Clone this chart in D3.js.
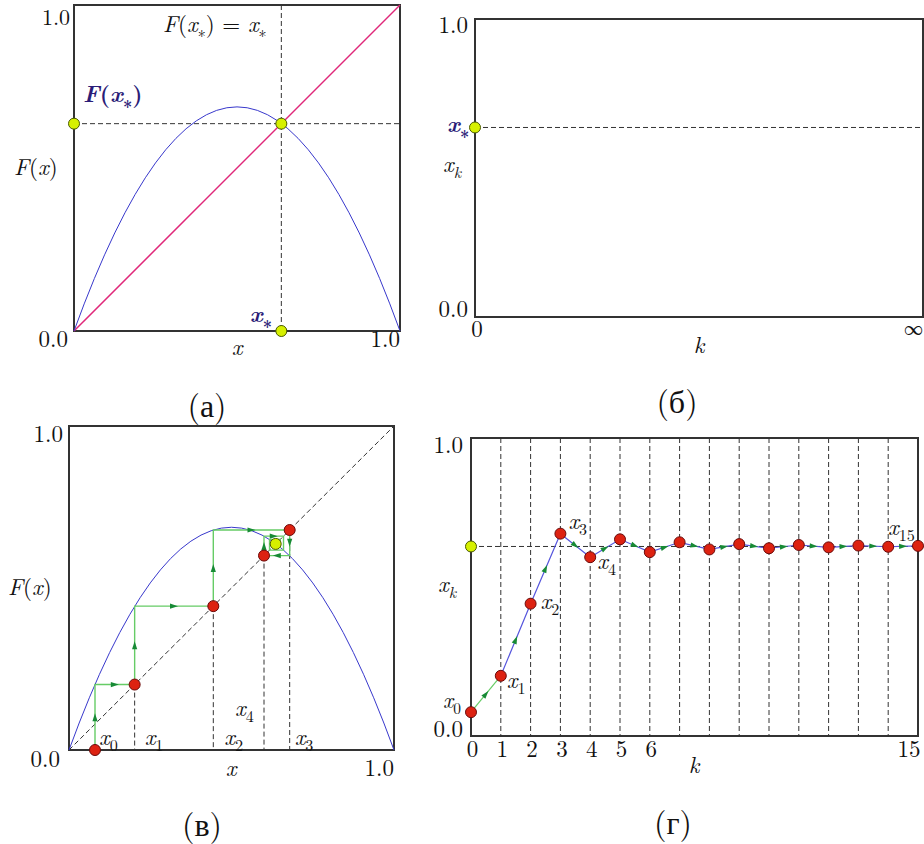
<!DOCTYPE html>
<html>
<head>
<meta charset="utf-8">
<script src="https://cdn.jsdelivr.net/npm/d3@7"></script>
<style>
  body { margin: 0; background: #fff; }
</style>
</head>
<body>
<svg width="924" height="844"></svg>
<script>
// logistic map F(x) = r x (1 - x), r ~ 2.75
var peakF = 0.6875;          // F(0.5), top of the parabola
var fixedPoint = 0.636;      // x* where F(x*) = x*
// iterates x_k
var xs = [0.080, 0.202, 0.444, 0.679, 0.600, 0.660, 0.617, 0.650,
          0.626, 0.644, 0.630, 0.641, 0.633, 0.639, 0.635, 0.638];
var kTicks = [0, 1, 2, 3, 4, 5, 6, 15];
var captions = ["(а)", "(б)", "(в)", "(г)"];

var FONT = "'Latin Modern Roman', 'Liberation Serif', serif";
var svg = d3.select("svg");
var navy = "#2b1d78", blue = "#3838cc", pink = "#e0287a",
    green = "#66cc66", arrowGreen = "#178a35";

function math(g, x, y, parts, opts) {
  opts = opts || {};
  var size = opts.size || 23, shift = 0;
  var t = g.append("text").attr("x", x).attr("y", y)
    .style("font-family", FONT)
    .attr("font-size", size)
    .attr("text-anchor", opts.anchor || "start")
    .attr("fill", opts.fill || "#111")
    .attr("font-weight", opts.bold ? "bold" : null);
  parts.forEach(function(p) {
    var s = t.append("tspan").text(p[0]);
    var sub = p[1].charAt(0) === "s";
    var want = sub ? size * 0.26 : 0;
    if (want !== shift) { s.attr("dy", want - shift); shift = want; }
    if (sub) s.attr("font-size", size * 0.7);
    if (p[1].indexOf("i") >= 0) s.style("font-style", "italic");
  });
  return t;
}

function frame(x, y) {
  svg.append("rect")
    .attr("x", x.range()[0]).attr("y", y.range()[1])
    .attr("width", x.range()[1] - x.range()[0])
    .attr("height", y.range()[0] - y.range()[1])
    .attr("fill", "none").attr("stroke", "#333").attr("stroke-width", 2);
}

function dashed(x1, y1, x2, y2) {
  svg.append("line").attr("x1", x1).attr("y1", y1).attr("x2", x2).attr("y2", y2)
    .attr("stroke", "#333").attr("stroke-width", 1).attr("stroke-dasharray", "5,3");
}

function dot(cx, cy, fill, stroke) {
  svg.append("circle").attr("cx", cx).attr("cy", cy).attr("r", 5.5)
    .attr("fill", fill).attr("stroke", stroke).attr("stroke-width", 1);
}
function yellow(cx, cy) { dot(cx, cy, "#d6f000", "#4a5a00"); }
function red(cx, cy) { dot(cx, cy, "#dd2211", "#6a0a0a"); }

function arrow(p, q) {
  var dx = q[0] - p[0], dy = q[1] - p[1];
  if (Math.hypot(dx, dy) < 8) return;
  var a = Math.atan2(dy, dx) * 180 / Math.PI;
  svg.append("path").attr("d", "M4,0L-4,-2.6L-4,2.6Z")
    .attr("fill", arrowGreen)
    .attr("transform", "translate(" + (p[0] + dx / 2) + "," + (p[1] + dy / 2) + ") rotate(" + a + ")");
}

function parabola(x, y) {
  var p = d3.path();
  p.moveTo(x(0), y(0));
  p.quadraticCurveTo(x(0.5), y(2 * peakF), x(1), y(0));
  svg.append("path").attr("d", p.toString()).attr("fill", "none")
    .attr("stroke", blue).attr("stroke-width", 1);
}

function label(txt, x, y, anchor, size) {
  svg.append("text").attr("x", x).attr("y", y).attr("font-size", size || 23)
    .style("font-family", FONT)
    .attr("text-anchor", anchor || "start").attr("fill", "#111").text(txt);
}

// ---------- (а) ----------
var xa = d3.scaleLinear().domain([0, 1]).range([74, 400]),
    ya = d3.scaleLinear().domain([0, 1]).range([331, 5]);
frame(xa, ya);
svg.append("line").attr("x1", xa(0)).attr("y1", ya(0)).attr("x2", xa(1)).attr("y2", ya(1))
  .attr("stroke", pink).attr("stroke-width", 1.5);
parabola(xa, ya);
dashed(xa(0), ya(fixedPoint), xa(1), ya(fixedPoint));
dashed(xa(fixedPoint), ya(1), xa(fixedPoint), ya(0));
yellow(xa(0), ya(fixedPoint));
yellow(xa(fixedPoint), ya(fixedPoint));
yellow(xa(fixedPoint), ya(0));
label("1.0", xa(0) - 4, ya(1) + 20, "end", 22);
label("0.0", xa(0) - 6, ya(0) + 16, "end");
label("1.0", xa(1), ya(0) + 16, "end");
math(svg, (xa(0) + xa(1)) / 2, ya(0) + 24, [["x", "i"]], { anchor: "middle" });
math(svg, 14, 175, [["F", "i"], ["(", "r"], ["x", "i"], [")", "r"]]);
math(svg, 163, 32, [["F", "i"], ["(", "r"], ["x", "i"], ["∗", "s"], [")", "r"],
                    [" = ", "r"], ["x", "i"], ["∗", "s"]]);
math(svg, 83, 102, [["F", "i"], ["(", "r"], ["x", "i"], ["∗", "s"], [")", "r"]],
     { bold: true, fill: navy });
math(svg, 272, 322, [["x", "i"], ["∗", "s"]], { bold: true, fill: navy, anchor: "end" });

// ---------- (б) ----------
var xb = d3.scaleLinear().domain([0, 1]).range([475, 923]),
    yb = d3.scaleLinear().domain([0, 1]).range([317, 19]);
frame(xb, yb);
dashed(xb(0), yb(fixedPoint), xb(1), yb(fixedPoint));
yellow(xb(0), yb(fixedPoint));
label("1.0", xb(0) - 7, yb(1) + 14, "end");
label("0.0", xb(0) - 7, yb(0), "end");
label("0", xb(0) + 2, yb(0) + 20, "middle");
label("∞", xb(1), yb(0) + 18, "end", 19);
math(svg, 699, yb(0) + 36, [["k", "i"]], { anchor: "middle" });
math(svg, 443, 172, [["x", "i"], ["k", "si"]]);
math(svg, 447, yb(fixedPoint) + 5, [["x", "i"], ["∗", "s"]], { bold: true, fill: navy });

// ---------- (в) ----------
var xc = d3.scaleLinear().domain([0, 1]).range([69, 394]),
    yc = d3.scaleLinear().domain([0, 1]).range([750, 426]);
frame(xc, yc);
dashed(xc(0), yc(0), xc(1), yc(1));
parabola(xc, yc);
[1, 2, 3, 4].forEach(function(k) { dashed(xc(xs[k]), yc(xs[k]), xc(xs[k]), yc(0)); });

// cobweb: (x0,0) -> (x0,x1) -> (x1,x1) -> (x1,x2) -> ...
var web = [[xs[0], 0]];
for (var k = 0; k < 11; k++) {
  web.push([xs[k], xs[k + 1]]);
  web.push([xs[k + 1], xs[k + 1]]);
}
var webPx = web.map(function(d) { return [xc(d[0]), yc(d[1])]; });
svg.append("path").attr("d", d3.line()(webPx)).attr("fill", "none")
  .attr("stroke", green).attr("stroke-width", 1.4);
for (var i = 0; i < 10; i++) arrow(webPx[i], webPx[i + 1]);

red(xc(xs[0]), yc(0));
[1, 2, 3, 4].forEach(function(k) { red(xc(xs[k]), yc(xs[k])); });
yellow(xc(fixedPoint), yc(fixedPoint));

label("1.0", xc(0) - 6, yc(1) + 16, "end");
label("0.0", xc(0) - 9, yc(0) + 17, "end");
label("1.0", xc(1), yc(0) + 26, "end");
math(svg, 231, yc(0) + 26, [["x", "i"]], { anchor: "middle" });
math(svg, 8, 595, [["F", "i"], ["(", "r"], ["x", "i"], [")", "r"]]);
math(svg, xc(xs[0]) + 4, 745, [["x", "i"], ["0", "s"]]);
math(svg, xc(xs[1]) + 10, 745, [["x", "i"], ["1", "s"]]);
math(svg, xc(xs[2]) + 11, 745, [["x", "i"], ["2", "s"]]);
math(svg, xc(xs[3]) + 5, 745, [["x", "i"], ["3", "s"]]);
math(svg, 235, 716, [["x", "i"], ["4", "s"]]);

// ---------- (г) ----------
var xd = d3.scaleLinear().domain([0, 15]).range([471, 918]),
    yd = d3.scaleLinear().domain([0, 1]).range([736, 438]);
frame(xd, yd);
d3.range(1, 15).forEach(function(k) { dashed(xd(k), yd(1), xd(k), yd(0)); });
dashed(xd(0), yd(fixedPoint), xd(15), yd(fixedPoint));

var pts = xs.map(function(v, k) { return [xd(k), yd(v)]; });
svg.append("path").attr("d", d3.line()(pts.slice(0, 2))).attr("fill", "none")
  .attr("stroke", green).attr("stroke-width", 1.2);
svg.append("path").attr("d", d3.line()(pts.slice(1))).attr("fill", "none")
  .attr("stroke", "#5555dd").attr("stroke-width", 1.2);
for (var j = 0; j < pts.length - 1; j++) arrow(pts[j], pts[j + 1]);
pts.forEach(function(p) { red(p[0], p[1]); });
yellow(xd(0), yd(fixedPoint));

var axisD = svg.append("g")
  .attr("transform", "translate(0," + yd(0) + ")")
  .call(d3.axisBottom(xd).tickValues(kTicks).tickSize(0).tickPadding(4));
axisD.select(".domain").remove();
axisD.selectAll("text").attr("font-size", 23).style("font-family", FONT)
  .attr("fill", "#111").attr("dy", 17)
  .attr("text-anchor", function(d) { return d === 15 ? "end" : "middle"; })
  .attr("x", function(d) { return d === 15 ? 2 : 1; });

label("1.0", xd(0) - 8, yd(1) + 15, "end");
label("0.0", xd(0) - 8, yd(0) + 1, "end");
math(svg, 694, 773, [["k", "i"]], { anchor: "middle" });
math(svg, 438, 592, [["x", "i"], ["k", "si"]]);
math(svg, 443, yd(xs[0]) - 4, [["x", "i"], ["0", "s"]], { size: 22 });
math(svg, xd(1) + 6, yd(xs[1]) + 12, [["x", "i"], ["1", "s"]]);
math(svg, xd(2) + 10, yd(xs[2]) + 5, [["x", "i"], ["2", "s"]]);
math(svg, xd(3) + 8, yd(xs[3]) - 5, [["x", "i"], ["3", "s"]]);
math(svg, xd(4) + 7, yd(xs[4]) + 12, [["x", "i"], ["4", "s"]]);
math(svg, 888, 535, [["x", "i"], ["15", "s"]]);

// ---------- captions ----------
[[207, 417], [677, 413], [202, 836], [673, 834]].forEach(function(p, i) {
  label(captions[i], p[0], p[1], "middle", 32);
});
</script>
</body>
</html>
